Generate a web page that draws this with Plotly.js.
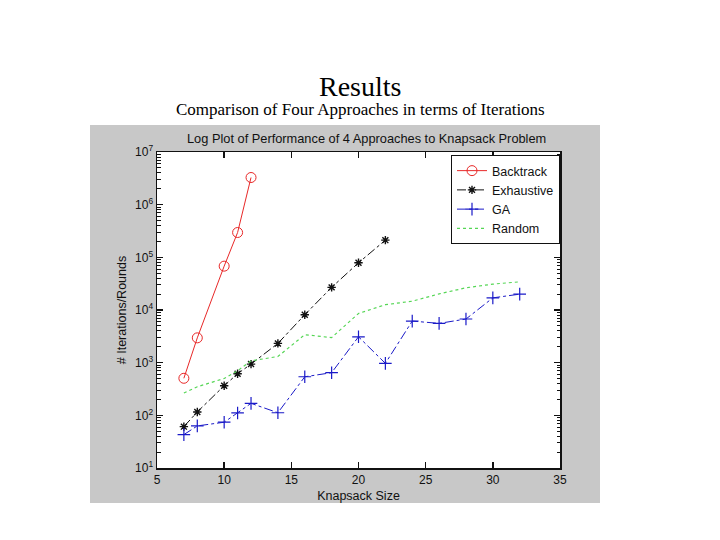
<!DOCTYPE html>
<html>
<head>
<meta charset="utf-8">
<script src="https://cdn.plot.ly/plotly-3.0.1.min.js"></script>
<style>html,body{margin:0;padding:0;background:#fff;}#chart{width:720px;height:540px;}</style>
</head>
<body>
<div id="chart"></div>
<script>
// Data
var backtrackX = [7, 8, 10, 11, 12];
var backtrackY = [505, 2960, 68000, 296000, 3280000];

var exhaustiveX = [7, 8, 10, 11, 12, 14, 16, 18, 20, 22];
var exhaustiveY = [61, 116, 365, 616, 940, 2320, 8130, 26900, 78700, 212000];

var gaX = [7, 8, 10, 11, 12, 14, 16, 18, 20, 22, 24, 26, 28, 30, 32];
var gaY = [43, 63, 74, 111, 169, 112, 540, 645, 3100, 970, 6160, 5570, 6740, 17000, 20000];

var randomX = [7, 8, 10, 11, 12, 14, 16, 18, 20, 22, 24, 26, 28, 30, 32];
var randomY = [265, 349, 500, 700, 1080, 1310, 3400, 2990, 8600, 12600, 14700, 20200, 26400, 31000, 34300];

var yExponents = [1, 2, 3, 4, 5, 6, 7];

var seriesNames = ['Backtrack', 'Exhaustive', 'GA', 'Random'];
var slideTitle = 'Results';
var slideSubtitle = 'Comparison of Four Approaches in terms of Iterations';
var plotTitle = 'Log Plot of Performance of 4 Approaches to Knapsack Problem';
var xTitle = 'Knapsack Size';
var yTitle = '# Iterations/Rounds';

var yTickVals = yExponents.map(function(e){ return Math.pow(10, e); });
var yTickText = yExponents.map(function(e){ return '10<sup>' + e + '</sup>'; });
var yMinorVals = [];
yExponents.slice(0, -1).forEach(function(e){
  for (var k = 2; k <= 9; k++) yMinorVals.push(k * Math.pow(10, e));
});

var traces = [
  {x: backtrackX, y: backtrackY, name: seriesNames[0], type: 'scatter', mode: 'lines+markers',
   line: {color: '#e82828', width: 1}, marker: {symbol: 'circle-open', size: 10, color: '#e82828', line: {width: 1}}},
  {x: exhaustiveX, y: exhaustiveY, name: seriesNames[1], type: 'scatter', mode: 'lines+markers',
   line: {color: '#111111', width: 1, dash: 'dashdot'}, marker: {symbol: 'asterisk-open', size: 7, color: '#111111', line: {width: 1.4, color: '#111111'}}},
  {x: gaX, y: gaY, name: seriesNames[2], type: 'scatter', mode: 'lines+markers',
   line: {color: '#1a1ac8', width: 1, dash: 'dashdot'}, marker: {symbol: 'cross-thin-open', size: 9, color: '#1a1ac8', line: {width: 1.2, color: '#1a1ac8'}}},
  {x: randomX, y: randomY, name: seriesNames[3], type: 'scatter', mode: 'lines', yaxis: 'y2',
   line: {color: '#55d655', width: 1.2, dash: '3px,3px'}}
];

// plot area: x 157..560, y 152..468
function px(v){ return (v - 157) / 403; }
function py(v){ return (468 - v) / 316; }

var axisFont = {family: 'Liberation Sans, Arial, sans-serif', size: 12.5, color: '#111'};
var tickFont = {family: 'Liberation Sans, Arial, sans-serif', size: 12, color: '#111'};

var layout = {
  width: 720, height: 540,
  margin: {l: 157, r: 160, t: 152, b: 72, pad: 0},
  paper_bgcolor: '#ffffff',
  plot_bgcolor: 'rgba(0,0,0,0)',
  showlegend: true,
  font: axisFont,
  xaxis: {
    range: [5, 35], dtick: 5, tick0: 5, showgrid: false, zeroline: false,
    showline: true, linecolor: '#111', linewidth: 1.5, mirror: 'ticks',
    ticks: 'inside', ticklen: 6, tickwidth: 1.5, tickcolor: '#111', tickfont: tickFont,
    title: {text: xTitle, font: axisFont, standoff: 5}
  },
  yaxis: {
    type: 'log', range: [1, 7], tickmode: 'array', tickvals: yTickVals, ticktext: yTickText,
    showgrid: false, zeroline: false,
    showline: true, linecolor: '#111', linewidth: 1.5, mirror: 'ticks',
    ticks: 'inside', ticklen: 6, tickwidth: 1.5, tickcolor: '#111', tickfont: tickFont,
    title: {text: yTitle, font: axisFont, standoff: 5}
  },
  yaxis2: {
    type: 'log', range: [1, 7], overlaying: 'y', anchor: 'x', side: 'left',
    tickmode: 'array', tickvals: yMinorVals, showticklabels: false,
    showgrid: false, zeroline: false, showline: false, mirror: 'ticks',
    ticks: 'inside', ticklen: 3.5, tickwidth: 1, tickcolor: '#111'
  },
  legend: {
    x: px(451), y: py(155), xanchor: 'left', yanchor: 'top',
    bgcolor: '#ffffff', bordercolor: '#111', borderwidth: 1,
    font: axisFont, tracegroupgap: 0, itemwidth: 30
  },
  shapes: [
    {type: 'rect', xref: 'paper', yref: 'paper', layer: 'below',
     x0: px(90), x1: px(600), y0: py(503), y1: py(125),
     fillcolor: '#c8c8c8', line: {width: 0}},
    {type: 'rect', xref: 'paper', yref: 'paper', layer: 'below',
     x0: 0, x1: 1, y0: 0, y1: 1, fillcolor: '#ffffff', line: {width: 0}}
  ],
  annotations: [
    {text: slideTitle, xref: 'paper', yref: 'paper', x: px(360), y: py(86),
     xanchor: 'center', yanchor: 'middle', showarrow: false,
     font: {family: 'Liberation Serif, Times New Roman, serif', size: 28, color: '#000'}},
    {text: slideSubtitle, xref: 'paper', yref: 'paper', x: px(360), y: py(110),
     xanchor: 'center', yanchor: 'middle', showarrow: false,
     font: {family: 'Liberation Serif, Times New Roman, serif', size: 17, color: '#000'}},
    {text: plotTitle, xref: 'paper', yref: 'paper', x: px(366), y: py(138),
     xanchor: 'center', yanchor: 'middle', showarrow: false,
     font: {family: 'Liberation Sans, Arial, sans-serif', size: 12.8, color: '#111'}}
  ]
};

Plotly.newPlot('chart', traces, layout, {displayModeBar: false, staticPlot: true});
</script>
</body>
</html>
